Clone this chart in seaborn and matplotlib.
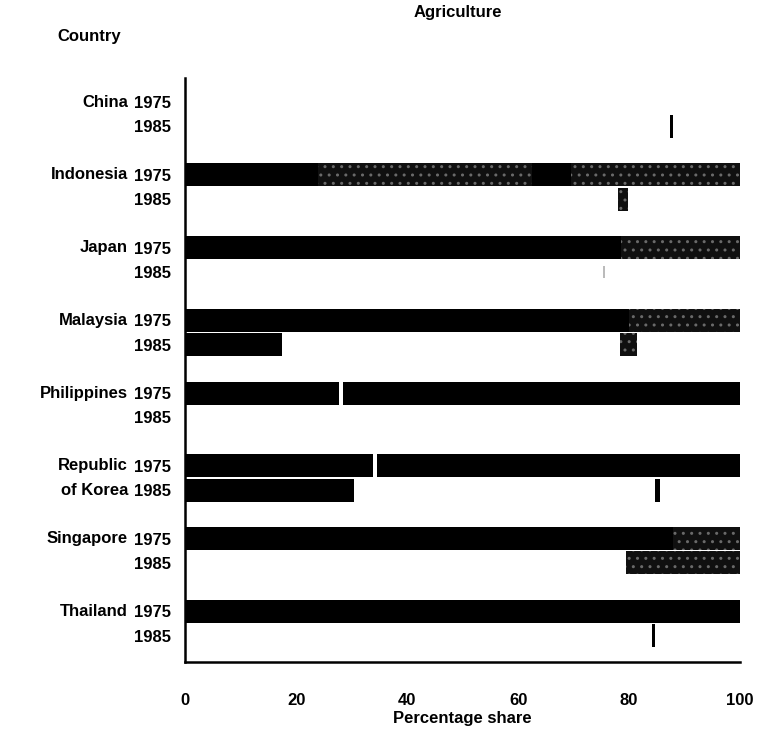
import matplotlib
matplotlib.use("Agg")
import matplotlib.pyplot as plt
import seaborn as sns

# Data
countries = ["China", "Indonesia", "Japan", "Malaysia", "Philippines",
             "Republic\nof Korea", "Singapore", "Thailand"]
years = ["1975", "1985"]

# one entry per bar segment: row index (country*2 + year), start, width, kind
seg_row = [1,
           2, 2, 2, 2, 3,
           4, 4, 5,
           6, 6, 7, 7,
           8, 8,
           10, 10, 11, 11,
           12, 12, 13,
           14, 15]
seg_start = [87.3,
             0, 24, 62.5, 69.5, 78.0,
             0, 78.5, 75.3,
             0, 80, 0, 78.3,
             0, 28.4,
             0, 34.5, 0, 84.7,
             0, 88, 79.5,
             0, 84.1]
seg_width = [0.6,
             24, 38.5, 7, 30.5, 1.8,
             78.5, 21.5, 0.3,
             80, 20, 17.5, 3.2,
             27.8, 71.6,
             33.9, 65.5, 30.5, 0.8,
             88, 12, 20.5,
             100, 0.6]
seg_kind = ["solid",
            "solid", "speckle", "solid", "speckle", "speckle",
            "solid", "speckle", "faint",
            "solid", "speckle", "solid", "speckle",
            "solid", "solid",
            "solid", "solid", "solid", "solid",
            "solid", "speckle", "speckle",
            "solid", "solid"]

sns.set_theme(style="white")
plt.rcParams['font.family'] = ['Liberation Sans', 'DejaVu Sans']
plt.rcParams['font.weight'] = 'bold'
plt.rcParams['hatch.linewidth'] = 1.0
for key in ['text.color', 'axes.labelcolor', 'xtick.color', 'ytick.color']:
    plt.rcParams[key] = 'black'

fig = plt.figure(figsize=(7.59, 7.35), dpi=100)
ax = fig.add_axes([0.244, 0.099, 0.731, 0.795])

# y position of each row: pairs 3 units apart
def ypos(r):
    return (r // 2) * 3 + (r % 2)

for r, s, w, k in zip(seg_row, seg_start, seg_width, seg_kind):
    if k == "solid":
        ax.barh(ypos(r), w, left=s, height=0.95, color="black", linewidth=0)
    elif k == "speckle":
        ax.barh(ypos(r), w, left=s, height=0.95, color="#101010",
                edgecolor="#6a6a6a", hatch="..", linewidth=0)
    else:
        ax.barh(ypos(r), w, left=s, height=0.5, color="#bbbbbb", linewidth=0)

ax.set_xlim(0, 100)
ax.set_ylim(23.1, -1.0)

ax.set_xticks([0, 20, 40, 60, 80, 100])
ax.set_xticklabels(["0", "20", "40", "60", "80", "100"], fontsize=12, fontweight="bold")
ticks = [ypos(r) for r in range(16)]
ax.set_yticks(ticks)
ax.set_yticklabels(years * 8, fontsize=12, fontweight="bold")
ax.tick_params(axis="x", length=0, pad=22)
ax.tick_params(axis="y", length=0, pad=10)

for i, c in enumerate(countries):
    if "\n" in c:
        top, bot = c.split("\n")
        ax.text(-0.103, ypos(2 * i), top, transform=ax.get_yaxis_transform(),
                ha="right", va="center", fontsize=12, fontweight="bold")
        ax.text(-0.103, ypos(2 * i + 1), bot, transform=ax.get_yaxis_transform(),
                ha="right", va="center", fontsize=12, fontweight="bold")
    else:
        ax.text(-0.103, ypos(2 * i), c, transform=ax.get_yaxis_transform(),
                ha="right", va="center", fontsize=12, fontweight="bold")

for side in ["top", "right"]:
    ax.spines[side].set_visible(False)
for side in ["left", "bottom"]:
    ax.spines[side].set_color("black")
    ax.spines[side].set_linewidth(1.8)

ax.set_xlabel("Percentage share", fontsize=12, fontweight="bold", labelpad=2)
fig.text(0.603, 0.983, "Agriculture", ha="center", va="center", fontsize=12, fontweight="bold")
fig.text(0.118, 0.950, "Country", ha="center", va="center", fontsize=12, fontweight="bold")

fig.savefig("out.png", dpi=100)
